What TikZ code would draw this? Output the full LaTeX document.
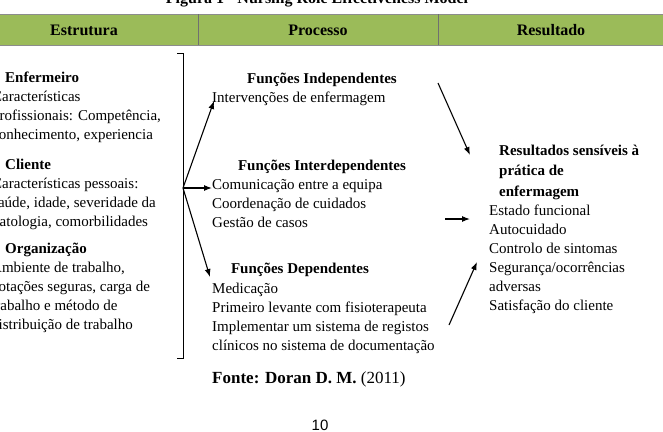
\documentclass[tikz,border=0pt]{standalone}
\usepackage{fontspec}
\setmainfont{Liberation Serif}
\newfontfamily\pagefont{Liberation Sans}
\usetikzlibrary{arrows.meta}
\definecolor{hdrgreen}{RGB}{155,187,89}
\definecolor{hdrline}{RGB}{140,140,140}

\begin{document}
\begin{tikzpicture}[x=1pt,y=-1pt,
        body/.style={anchor=base west,inner sep=0pt,align=left,font=\fontsize{15}{19.2}\selectfont},
        bhead/.style={anchor=base,inner sep=0pt,font=\fontsize{15}{19}\selectfont\bfseries},
        colhead/.style={anchor=base,inner sep=0pt,font=\fontsize{16}{19}\selectfont\bfseries},
        arr/.style={-{Latex[length=8pt,width=6pt]},line width=1.1pt}]
    \useasboundingbox (0,0) rectangle (663,431);
    \clip (0,0) rectangle (663,431);
    % title, cut by the top edge
    \node[colhead] (title) at (317,4) {Figura 1 - Nursing Role Effectiveness Model};
    % header band
    \fill[hdrgreen] (0,14) rectangle (663,45);
    \draw[hdrline, line width=1pt] (0,14) -- (663,14)
                                  (0,45) -- (663,45);
    \draw[hdrline!80!black, line width=0.6pt] (198,14) -- (198,45)
                                             (438,14) -- (438,45);
    \node[colhead] (estrutura) at (84,35) {Estrutura};
    \node[colhead] (processo) at (318,35) {Processo};
    \node[colhead] (resultado) at (551,35) {Resultado};
    % estrutura (nodes placed at the baseline of their last line)
    \node[body] (enfermeiro) at (-8,139.6) {\hspace{13pt}\textbf{Enfermeiro}\\Características\\profissionais: Competência,\\conhecimento, experiencia};
    \node[body] (cliente) at (-8,226.6) {\hspace{13pt}\textbf{Cliente}\\Características pessoais:\\saúde, idade, severidade da\\patologia, comorbilidades};
    \node[body] (organizacao) at (-9,329.8) {\hspace{14pt}\textbf{Organização}\\Ambiente de trabalho,\\dotações seguras, carga de\\trabalho e método de\\distribuição de trabalho};
    % bracket
    \draw[line width=1pt] (177,53) -- (183,53) -- (183,358) -- (177,358);
    \coordinate (split) at (183,188);
    % processo
    \node[bhead] (indep-t) at (322,83) {Funções Independentes};
    \node[body] (indep) at (212,102) {Intervenções de enfermagem};
    \node[bhead] (inter-t) at (322,170) {Funções Interdependentes};
    \node[body] (inter) at (212,227.4) {Comunicação entre a equipa\\Coordenação de cuidados\\Gestão de casos};
    \node[bhead] (dep-t) at (300,273) {Funções Dependentes};
    \node[body] (dep) at (212,350.6) {Medicação\\Primeiro levante com fisioterapeuta\\Implementar um sistema de registos\\clínicos no sistema de documentação};
    \coordinate (indep-in) at (214,101);
    \coordinate (inter-in) at (212,188);
    \coordinate (dep-in) at (210,277);
    \draw[arr] (split) -- (indep-in);
    \draw[arr] (split) -- (inter-in);
    \draw[arr] (split) -- (dep-in);
    % resultado
    \node[body, font=\fontsize{15}{20.5}\selectfont\bfseries] (res-t) at (499,196) {Resultados sensíveis à\\prática de\\enfermagem};
    \node[body, font=\fontsize{15}{19}\selectfont] (res) at (489,310) {Estado funcional\\Autocuidado\\Controlo de sintomas\\Segurança/ocorrências\\adversas\\Satisfação do cliente};
    \coordinate (a1) at (438,83);
    \coordinate (b1) at (470,155);
    \coordinate (a2) at (445,219);
    \coordinate (b2) at (470,219);
    \coordinate (a3) at (449,325);
    \coordinate (b3) at (477,262);
    \draw[arr] (a1) -- (b1);
    \draw[arr] (a2) -- (b2);
    \draw[arr] (a3) -- (b3);
    % fonte and page number
    \node[body, font=\fontsize{17}{20}\selectfont] (fonte) at (212,383) {\textbf{Fonte: Doran D. M.} (2011)};
    \node[anchor=base, inner sep=0pt, font=\pagefont\fontsize{15}{18}\selectfont] (pagenum) at (320,430) {10};
\end{tikzpicture}
\end{document}
